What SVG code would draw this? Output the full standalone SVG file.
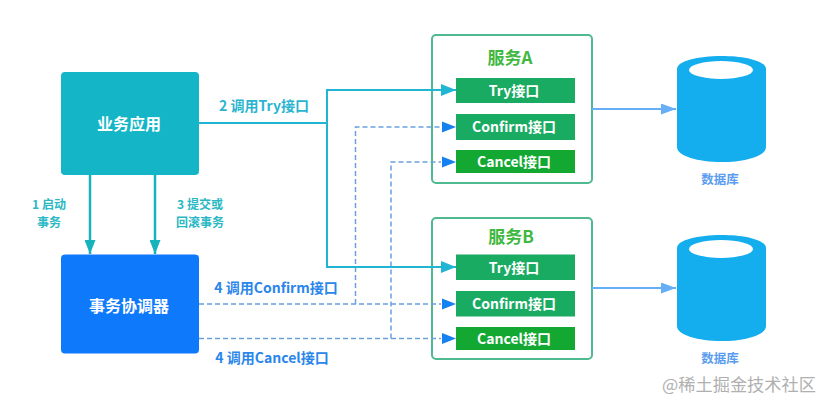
<svg xmlns="http://www.w3.org/2000/svg" width="831" height="410" viewBox="0 0 831 410">
<defs>
<marker id="a-teal" markerUnits="userSpaceOnUse" markerWidth="15" markerHeight="12" refX="15" refY="6" orient="auto"><path d="M0 0L15 6L0 12Z" fill="#1fb5d3"/></marker>
<marker id="a-green" markerUnits="userSpaceOnUse" markerWidth="14" markerHeight="11" refX="14" refY="5.500" orient="auto"><path d="M0 0L14 5.500L0 11Z" fill="#17b3bb"/></marker>
<marker id="a-light" markerUnits="userSpaceOnUse" markerWidth="15" markerHeight="11" refX="15" refY="5.500" orient="auto"><path d="M0 0L15 5.500L0 11Z" fill="#66aef5"/></marker>
</defs>
<style>
text{font-family:"Noto Sans CJK SC","Noto Sans",sans-serif;font-weight:700;text-anchor:middle}
.main{fill:#fff;font-size:16px}
.api{fill:#fff;font-size:14px}
.svc{fill:#3fb83f;font-size:17px}
.cl{fill:#2ab4cf;font-size:14px}
.sl{fill:#2ab8c4;font-size:12px}
.bl{fill:#2a86ea;font-size:14px}
.db{fill:#5a9df0;font-size:12.500px}
.box{fill:#fff;stroke:#4fb98f;stroke-width:2}
.g1{fill:#1aab62}
.g2{fill:#12a832}
.cyl{fill:#14aeef}
.hole{fill:#fff}
.solid{fill:none;stroke:#1fb5d3;stroke-width:2}
.down{fill:none;stroke:#17b3bb;stroke-width:2.500}
.dash{fill:none;stroke:#6a9fe0;stroke-width:1.500;stroke-dasharray:5 3}
.light{fill:none;stroke:#66aef5;stroke-width:2}
</style>
<rect width="831" height="410" fill="#fff"/>
<g id="service-a">
<rect class="box" x="432" y="35" width="160" height="148" rx="4"/>
<text class="svc" x="510" y="64">服务A</text>
<g id="a-try"><rect class="g1" x="456" y="78" width="119" height="25"/><text class="api" x="514" y="96">Try接口</text></g>
<g id="a-confirm"><rect class="g1" x="456" y="114" width="119" height="26"/><text class="api" x="514" y="132">Confirm接口</text></g>
<g id="a-cancel"><rect class="g2" x="456" y="150" width="119" height="23"/><text class="api" x="514" y="167">Cancel接口</text></g>
</g>
<g id="service-b">
<rect class="box" x="432" y="218" width="160" height="141" rx="4"/>
<text class="svc" x="511" y="243">服务B</text>
<g id="b-try"><rect class="g1" x="456" y="254.500" width="119" height="25.500"/><text class="api" x="514" y="273">Try接口</text></g>
<g id="b-confirm"><rect class="g1" x="456" y="291" width="119" height="25.500"/><text class="api" x="514" y="309">Confirm接口</text></g>
<g id="b-cancel"><rect class="g2" x="456" y="327" width="119" height="23"/><text class="api" x="514" y="344">Cancel接口</text></g>
</g>
<g id="connectors">
<path class="dash" d="M199 304H441"/>
<path class="dash" d="M199 338.500H441"/>
<path class="dash" d="M355.500 304V127H441"/>
<path class="dash" d="M391 338.500V162H441"/>
<path d="M442 121.500L456 127L442 132.500Z" fill="#1580f0"/>
<path d="M442 156.500L456 162L442 167.500Z" fill="#1580f0"/>
<path d="M442 298.500L456 304L442 309.500Z" fill="#1580f0"/>
<path d="M442 333L456 338.500L442 344Z" fill="#1580f0"/>
<path class="solid" d="M199 123H327V90H456" marker-end="url(#a-teal)"/>
<path class="solid" d="M327 123V267H456" marker-end="url(#a-teal)"/>
<path class="down" d="M90 175V254" marker-end="url(#a-green)"/>
<path class="down" d="M155 175V254" marker-end="url(#a-green)"/>
<path class="light" d="M592 109H676" marker-end="url(#a-light)"/>
<path class="light" d="M592 288H676" marker-end="url(#a-light)"/>
</g>
<g id="business-app">
<rect x="61" y="72" width="138" height="103" rx="4" fill="#14b5c6"/>
<text class="main" x="129" y="130">业务应用</text>
</g>
<g id="coordinator">
<rect x="61" y="254.500" width="138" height="99" rx="4" fill="#0f79fb"/>
<text class="main" x="129" y="312">事务协调器</text>
</g>
<g id="db-a">
<path class="cyl" d="M677 69C677 61 698 56 721.500 56C745 56 766 61 766 69V147C766 156 745 162 721.500 162C698 162 677 156 677 147Z"/>
<ellipse class="hole" cx="721" cy="70" rx="32" ry="9"/>
<text class="db" x="720" y="184">数据库</text>
</g>
<g id="db-b">
<path class="cyl" d="M677 248C677 240 698 235 721.500 235C745 235 766 240 766 248V326C766 335 745 341 721.500 341C698 341 677 335 677 326Z"/>
<ellipse class="hole" cx="721" cy="249" rx="32" ry="9"/>
<text class="db" x="720" y="363">数据库</text>
</g>
<g id="labels">
<text class="cl" x="264" y="111">2 调用Try接口</text>
<text class="sl" x="49" y="209">1 启动</text>
<text class="sl" x="49" y="226.500">事务</text>
<text class="sl" x="200" y="209">3 提交或</text>
<text class="sl" x="200" y="226.500">回滚事务</text>
<text class="bl" x="276" y="293">4 调用Confirm接口</text>
<text class="bl" x="272" y="363">4 调用Cancel接口</text>
<text x="739" y="391" style="fill:#b0b0b0;font-size:17.200px;font-weight:400">@稀土掘金技术社区</text>
</g>
</svg>
